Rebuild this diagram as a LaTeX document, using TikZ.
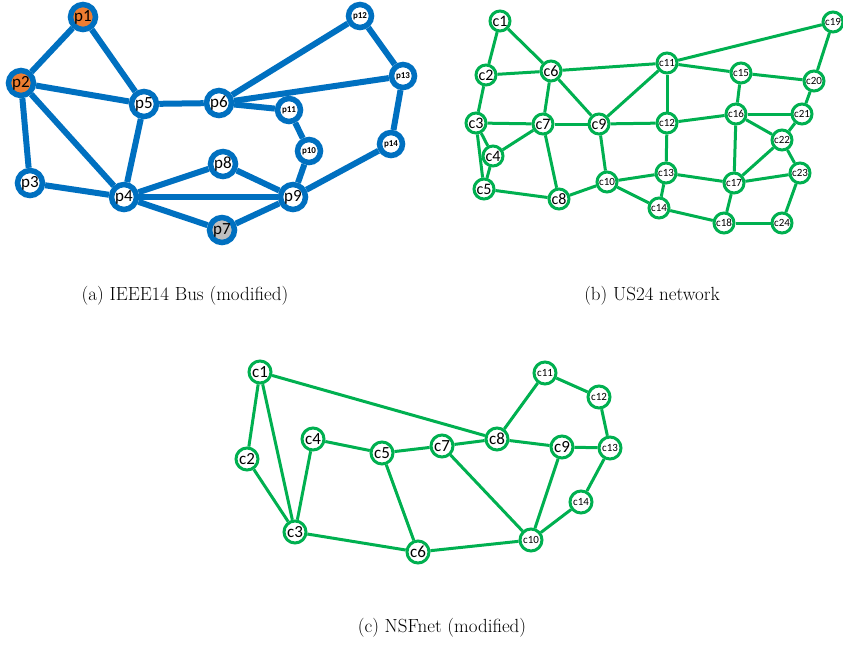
\documentclass[tikz,border=0pt]{standalone}
\usepackage{fontspec}
\newfontfamily\labelfont{Carlito}
\usepackage{xcolor}

\definecolor{busblue}{RGB}{0,112,192}
\definecolor{busorange}{RGB}{237,125,49}
\definecolor{busgray}{RGB}{191,191,191}
\definecolor{netgreen}{RGB}{0,176,80}

\begin{document}
\begin{tikzpicture}[x=1pt,y=-1pt,
    bus/.style={circle,draw=busblue,line width=5.5pt,fill=white,minimum size=25pt,inner sep=0pt,
        font=\labelfont\fontsize{17}{17}\selectfont},
    smallbus/.style={bus,minimum size=23pt,font=\labelfont\bfseries\fontsize{9}{9}\selectfont},
    busline/.style={busblue,line width=6pt},
    city/.style={circle,draw=netgreen,line width=3pt,fill=white,minimum size=20pt,inner sep=0pt,
        font=\labelfont\fontsize{16}{16}\selectfont},
    smallcity/.style={city,font=\labelfont\fontsize{11}{11}\selectfont},
    bigcity/.style={city,minimum size=22pt,font=\labelfont\fontsize{17}{17}\selectfont},
    bigsmallcity/.style={smallcity,minimum size=22pt},
    link/.style={netgreen,line width=3pt},
    caption/.style={font=\fontsize{19}{22}\selectfont}]
    \useasboundingbox (0,0) rectangle (843,646);

    % (a) IEEE14 bus
    \node[bus,fill=busorange] (p1) at (83,17) {p1};
    \node[bus,fill=busorange] (p2) at (21,83) {p2};
    \node[bus] (p3) at (30,183) {p3};
    \node[bus] (p4) at (124,197) {p4};
    \node[bus] (p5) at (144,104) {p5};
    \node[bus] (p6) at (219,103) {p6};
    \node[bus,fill=busgray] (p7) at (222,230) {p7};
    \node[bus] (p8) at (223,164) {p8};
    \node[bus] (p9) at (293,197) {p9};
    \node[smallbus] (p10) at (309,151) {p10};
    \node[smallbus] (p11) at (289,110) {p11};
    \node[smallbus] (p12) at (360,16) {p12};
    \node[smallbus] (p13) at (403,76) {p13};
    \node[smallbus] (p14) at (391,144) {p14};
    \foreach \a/\b in {p1/p2,p1/p5,p2/p5,p2/p3,p2/p4,p3/p4,p5/p4,p5/p6,p6/p12,p6/p13,
        p6/p11,p12/p13,p13/p14,p11/p10,p10/p9,p14/p9,p4/p8,p8/p9,p4/p9,p4/p7,p7/p9}
        \draw[busline] (\a) -- (\b);
    \node[caption] (capa) at (185,296) {(a) IEEE14 Bus (modified)};

    % (b) US24 network
    \node[city] (u1) at (500,21) {c1};
    \node[city] (u2) at (486,75) {c2};
    \node[city] (u3) at (476,123) {c3};
    \node[city] (u4) at (493,156) {c4};
    \node[city] (u5) at (484,189) {c5};
    \node[city] (u6) at (551,71) {c6};
    \node[city] (u7) at (543,124) {c7};
    \node[city] (u8) at (559,199) {c8};
    \node[city] (u9) at (599,124) {c9};
    \node[smallcity] (u10) at (607,182) {c10};
    \node[smallcity] (u11) at (667,63) {c11};
    \node[smallcity] (u12) at (667,123) {c12};
    \node[smallcity] (u13) at (666,173) {c13};
    \node[smallcity] (u14) at (659,208) {c14};
    \node[smallcity] (u15) at (741,73) {c15};
    \node[smallcity] (u16) at (736,114) {c16};
    \node[smallcity] (u17) at (734,183) {c17};
    \node[smallcity] (u18) at (724,223) {c18};
    \node[smallcity] (u19) at (833,22) {c19};
    \node[smallcity] (u20) at (814,81) {c20};
    \node[smallcity] (u21) at (802,114) {c21};
    \node[smallcity] (u22) at (782,140) {c22};
    \node[smallcity] (u23) at (800,173) {c23};
    \node[smallcity] (u24) at (782,223) {c24};
    \foreach \a/\b in {1/2,1/6,2/6,2/3,3/7,3/4,3/5,4/7,4/5,5/8,6/7,6/9,6/11,7/9,7/8,
        8/10,9/10,9/12,9/11,11/12,11/15,11/19,12/13,12/16,13/10,13/14,13/17,10/14,
        14/18,15/16,15/20,16/21,16/22,16/17,19/20,20/21,21/22,22/17,22/23,23/17,
        23/24,17/18,18/24}
        \draw[link] (u\a) -- (u\b);
    \node[caption] (capb) at (652,296) {(b) US24 network};

    % (c) NSFnet
    \node[bigcity] (n1) at (260,372) {c1};
    \node[bigcity] (n2) at (247,459) {c2};
    \node[bigcity] (n3) at (295,532) {c3};
    \node[bigcity] (n4) at (313,439) {c4};
    \node[bigcity] (n5) at (382,453) {c5};
    \node[bigcity] (n6) at (418,552) {c6};
    \node[bigcity] (n7) at (442,446) {c7};
    \node[bigcity] (n8) at (497,439) {c8};
    \node[bigcity] (n9) at (562,447) {c9};
    \node[bigsmallcity] (n10) at (531,540) {c10};
    \node[bigsmallcity] (n11) at (545,373) {c11};
    \node[bigsmallcity] (n12) at (599,397) {c12};
    \node[bigsmallcity] (n13) at (610,448) {c13};
    \node[bigsmallcity] (n14) at (581,502) {c14};
    \foreach \a/\b in {1/2,1/3,1/8,2/3,3/4,3/6,4/5,5/7,5/6,7/8,7/10,8/11,8/9,9/13,
        9/10,11/12,12/13,13/14,14/10,6/10}
        \draw[link] (n\a) -- (n\b);
    \node[caption] (capc) at (442,628) {(c) NSFnet (modified)};
\end{tikzpicture}
\end{document}
